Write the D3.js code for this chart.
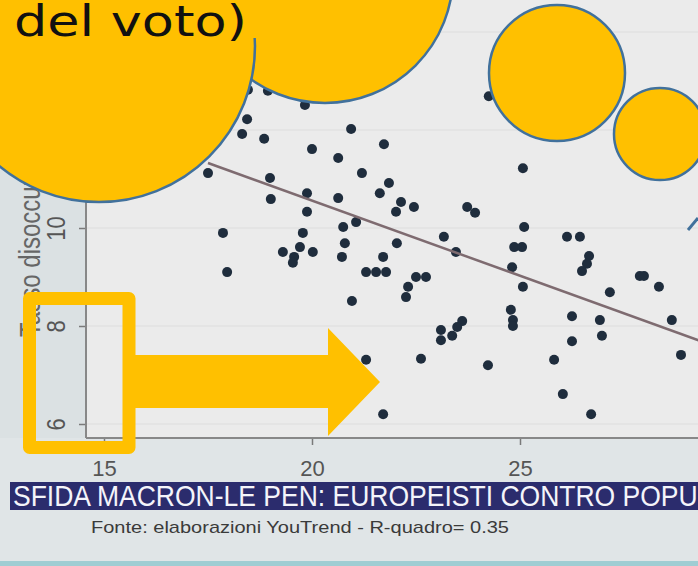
<!DOCTYPE html>
<html>
<head>
<meta charset="utf-8">
<script src="https://cdn.jsdelivr.net/npm/d3@7"></script>
<style>
  body { margin: 0; background: #dde3e6; }
  svg { display: block; }
</style>
</head>
<body>
<svg id="chart" width="698" height="566"></svg>
<script>
// values (x: share, y: unemployment rate)
const xValues = [18.46,18.94,19.83,18.44,18.32,18.85,20.94,20.00,20.63,21.73,
  17.50,18.99,21.20,21.85,21.63,19.01,19.88,20.63,22.14,22.45,
  22.02,19.88,21.06,20.75,17.86,19.78,20.79,22.04,23.17,19.30,
  19.71,20.02,19.57,19.54,20.72,21.71,17.96,21.30,21.54,21.78,
  22.50,22.74,22.31,22.26,20.96,24.25,25.07,23.73,23.92,25.10,
  23.46,24.86,25.05,24.81,25.07,26.13,26.44,26.66,26.61,26.49,
  27.88,27.98,28.34,27.16,28.65,28.87,24.78,24.83,24.83,26.25,
  26.92,26.97,26.25,23.61,23.49,23.37,23.10,23.10,21.30,22.62,
  24.23,25.82,26.03,26.71,21.71];
const yValues = [12.82,12.80,12.51,12.22,11.92,11.82,12.02,11.61,11.43,11.71,
  11.12,11.02,11.12,10.92,10.71,10.59,10.71,10.61,10.53,10.43,
  10.33,10.33,10.12,10.02,9.90,9.90,9.69,9.69,9.82,9.51,
  9.61,9.51,9.41,9.29,9.41,9.41,9.10,9.10,9.10,9.10,
  9.00,9.00,8.80,8.59,8.51,12.69,11.22,10.43,10.31,10.02,
  9.51,9.61,9.61,9.20,8.80,9.82,9.82,9.43,9.27,9.12,
  9.02,9.02,8.80,8.69,8.12,7.41,8.33,8.12,8.00,8.20,
  8.12,7.80,7.69,8.10,7.98,7.80,7.92,7.71,7.31,7.33,
  7.20,7.31,6.61,6.20,6.20];
const xTicks = [15, 20, 25];
const yTicks = [6, 8, 10, 12, 14];
const fitIntercept = 16.70;
const fitSlope = -0.307;
const fitRange = [17.5, 30];

const yTitle = "Tasso disoccupazione";
const bannerText = "SFIDA MACRON-LE PEN: EUROPEISTI CONTRO POPULISTI";
const sourceText = "Fonte: elaborazioni YouTrend - R-quadro= 0.35";
const bubbleText = "del voto)";

const width = 698, height = 566;
const plotLeft = 86, plotBottom = 438;
const yellow = "#ffc000", outline = "#41719c";

const svg = d3.select("#chart");

const x = d3.scaleLinear().domain([15, 25]).range([104, 520]);
const y = d3.scaleLinear().domain([6, 10]).range([424, 228]);

// backgrounds
svg.append("rect").attr("width", width).attr("height", height).attr("fill", "#e0e5e7");
svg.append("rect").attr("x", 0).attr("y", 0).attr("width", plotLeft).attr("height", plotBottom).attr("fill", "#dbe1e3");
svg.append("rect")
  .attr("x", plotLeft).attr("y", 0)
  .attr("width", width - plotLeft).attr("height", plotBottom)
  .attr("fill", "#ebebeb");
svg.append("rect").attr("x", 0).attr("y", 561).attr("width", width).attr("height", 5).attr("fill", "#9fcdd3");

// faint gridlines
svg.append("g").selectAll("line")
  .data(yTicks).enter().append("line")
  .attr("x1", plotLeft).attr("x2", width)
  .attr("y1", d => y(d)).attr("y2", d => y(d))
  .attr("stroke", "#e2e2e2").attr("stroke-width", 1.5);

// axes
const xAxis = svg.append("g")
  .attr("transform", "translate(0," + plotBottom + ")")
  .call(d3.axisBottom(x).tickValues(xTicks).tickSize(7).tickPadding(15).tickFormat(d3.format("d")));
xAxis.select(".domain").remove();
xAxis.selectAll("line").attr("stroke", "#7a7a7a").attr("stroke-width", 1.5);
xAxis.selectAll("text")
  .attr("fill", "#555").style("font-family", "Liberation Sans, Arial, sans-serif").style("font-size", "22px");

const yAxis = svg.append("g")
  .attr("transform", "translate(" + plotLeft + ",0)")
  .call(d3.axisLeft(y).tickValues(yTicks).tickSize(7).tickFormat(d3.format("d")));
yAxis.select(".domain").remove();
yAxis.selectAll("line").attr("stroke", "#7a7a7a").attr("stroke-width", 1.5);
yAxis.selectAll("text")
  .attr("x", null).attr("dy", null)
  .attr("transform", "translate(-21,0) rotate(-90) scale(1,1.15)")
  .attr("text-anchor", "middle")
  .attr("fill", "#555")
  .style("font-family", "Liberation Sans, Arial, sans-serif").style("font-size", "22px");

svg.append("line")
  .attr("x1", plotLeft).attr("x2", plotLeft).attr("y1", 0).attr("y2", plotBottom)
  .attr("stroke", "#888").attr("stroke-width", 2);
svg.append("line")
  .attr("x1", plotLeft).attr("x2", width).attr("y1", plotBottom).attr("y2", plotBottom)
  .attr("stroke", "#888").attr("stroke-width", 2);

svg.append("text")
  .attr("transform", "translate(40,337) rotate(-90) scale(1,1.25)")
  .attr("fill", "#666")
  .style("font-family", "Liberation Sans, Arial, sans-serif").style("font-size", "24px")
  .text(yTitle);

// scatter + fitted line
const points = xValues.map((v, i) => ({x: v, y: yValues[i]}));
svg.append("g").selectAll("circle")
  .data(points).enter().append("circle")
  .attr("cx", d => x(d.x)).attr("cy", d => y(d.y))
  .attr("r", 5)
  .attr("fill", "#1f2d3d");

const fitLine = d3.line().x(d => x(d)).y(d => y(fitIntercept + fitSlope * d));
svg.append("path")
  .datum(fitRange)
  .attr("d", fitLine)
  .attr("fill", "none").attr("stroke", "#7e6b70").attr("stroke-width", 2.5);

// banner and source
svg.append("rect").attr("x", 10).attr("y", 482).attr("width", width - 10).attr("height", 28).attr("fill", "#2b2c6d");
svg.append("text")
  .attr("x", 13).attr("y", 506)
  .attr("textLength", 748).attr("lengthAdjust", "spacingAndGlyphs")
  .attr("fill", "#f4f4fa")
  .style("font-family", "Liberation Sans, Arial, sans-serif").style("font-size", "30px")
  .text(bannerText);
svg.append("text")
  .attr("x", 91).attr("y", 533)
  .attr("textLength", 418).attr("lengthAdjust", "spacingAndGlyphs")
  .attr("fill", "#3a3a3a")
  .style("font-family", "Liberation Sans Narrow, Liberation Sans, Arial, sans-serif").style("font-size", "17px")
  .text(sourceText);

// annotations drawn over the chart
svg.append("rect")
  .attr("x", 29.5).attr("y", 298.5).attr("width", 99.5).attr("height", 149)
  .attr("fill", "none").attr("stroke", yellow).attr("stroke-width", 13)
  .attr("stroke-linejoin", "round");
svg.append("path")
  .attr("d", "M133,355H328V328L380,382L328,436V408H133Z")
  .attr("fill", yellow);

const bubbles = svg.append("g").attr("fill", yellow).attr("stroke", outline).attr("stroke-width", 2.5);
bubbles.append("circle").attr("cx", 325).attr("cy", -25).attr("r", 128);
bubbles.append("circle").attr("cx", 99).attr("cy", 46).attr("r", 156);
svg.append("rect").attr("x", 0).attr("y", 0).attr("width", 258).attr("height", 38).attr("fill", yellow);
bubbles.append("circle").attr("cx", 557).attr("cy", 73).attr("r", 68);
bubbles.append("circle").attr("cx", 660).attr("cy", 134).attr("r", 46);
svg.append("path")
  .attr("d", "M688,230L698,218")
  .attr("stroke", outline).attr("stroke-width", 3).attr("fill", "none");

svg.append("text")
  .attr("x", 14).attr("y", 36)
  .attr("textLength", 233).attr("lengthAdjust", "spacingAndGlyphs")
  .attr("fill", "#111")
  .style("font-family", "DejaVu Sans, Verdana, sans-serif").style("font-size", "42px")
  .text(bubbleText);
</script>
</body>
</html>
